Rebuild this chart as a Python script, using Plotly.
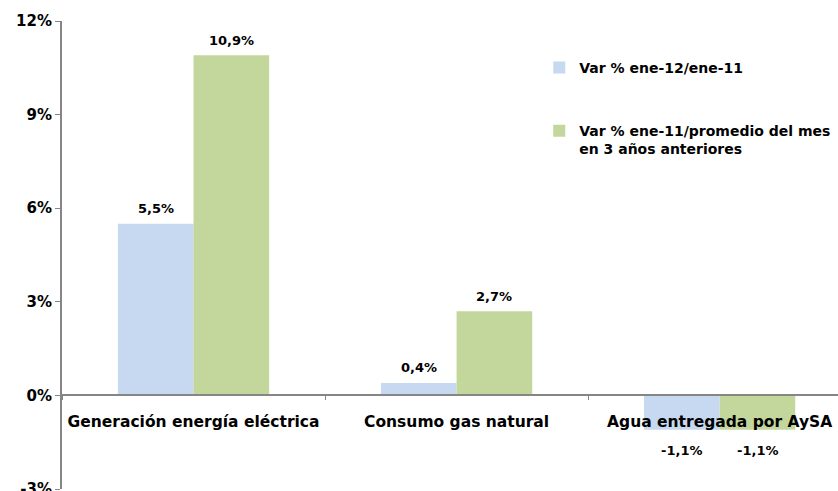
import plotly.graph_objects as go

categories = ["Generación energía eléctrica", "Consumo gas natural", "Agua entregada por AySA"]
var_anual = [5.5, 0.4, -1.1]
var_promedio = [10.9, 2.7, -1.1]
series_names = ["Var % ene-12/ene-11", "Var % ene-11/promedio del mes<br>en 3 años anteriores"]
y_ticks = [-3, 0, 3, 6, 9, 12]

FONT = "DejaVu Sans"
AXIS_GRAY = "#868686"
BAR_GAP = 0.425
HALF_BAR = (1 - BAR_GAP) / 4  # centre offset of each bar within its group


def pct_label(v):
    return f"{v:.1f}".replace(".", ",") + "%"


fig = go.Figure()
series = [
    (series_names[0], var_anual, "#C6D9F1", "a", -HALF_BAR),
    (series_names[1], var_promedio, "#C3D69B", "b", HALF_BAR),
]
for name, vals, color, grp, _ in series:
    fig.add_trace(go.Bar(
        x=categories, y=vals, name=name, marker_color=color,
        marker_line_width=0, legendgroup=grp,
    ))

# value labels above positive bars and below negative ones
for _, vals, _, _, offset in series:
    for i, v in enumerate(vals):
        fig.add_annotation(
            x=i + offset, y=v, xref="x", yref="y",
            text=pct_label(v), showarrow=False,
            yanchor="middle", yshift=15 if v >= 0 else -21,
            font=dict(family=FONT, size=13, color="black", weight="bold"),
        )

fig.update_layout(
    width=838, height=491,
    margin=dict(l=62, r=0, t=21, b=2, autoexpand=False),
    plot_bgcolor="white", paper_bgcolor="white",
    barmode="group", bargap=BAR_GAP, bargroupgap=0,
    font=dict(family=FONT, color="black"),
    showlegend=True,
    legend=dict(
        x=0.615, y=0.934, xanchor="left", yanchor="top",
        tracegroupgap=42, bgcolor="rgba(0,0,0,0)", valign="top",
        font=dict(family=FONT, size=14, color="black", weight="bold"),
        itemwidth=30,
    ),
    xaxis=dict(
        range=[-0.5, 2.45], anchor="free", position=0.2,
        showline=True, linecolor=AXIS_GRAY, linewidth=2,
        ticks="outside", tickson="boundaries", ticklen=4, tickcolor=AXIS_GRAY,
        ticklabelstandoff=12, tickangle=0, automargin=False,
        tickfont=dict(family=FONT, size=15.5, color="black", weight="bold"),
        showgrid=False, zeroline=False,
    ),
    yaxis=dict(
        range=[-3, 12], tickvals=y_ticks, ticktext=[f"{t}%" for t in y_ticks],
        showline=True, linecolor=AXIS_GRAY, linewidth=2,
        ticks="outside", ticklen=5, tickcolor=AXIS_GRAY,
        ticklabeloverflow="allow", automargin=False,
        tickfont=dict(family=FONT, size=15, color="black", weight="bold"),
        showgrid=False, zeroline=False,
    ),
)

fig.write_html("out.html")
